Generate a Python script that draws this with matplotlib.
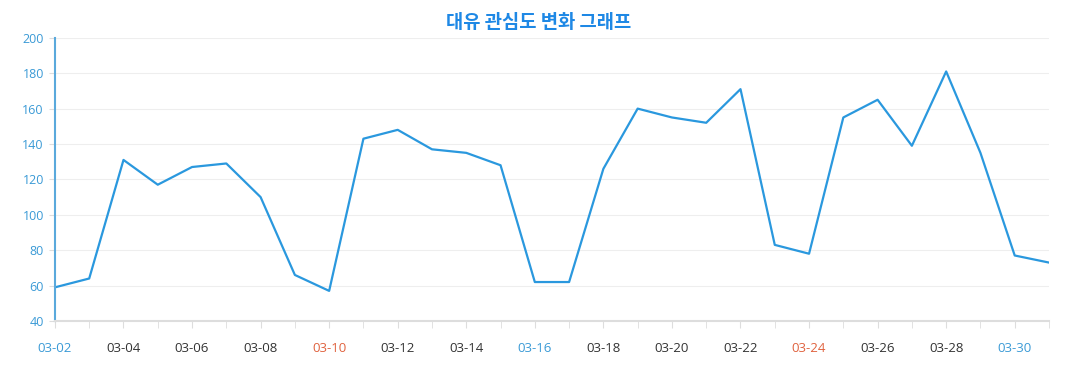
import matplotlib.pyplot as plt

plt.rcParams['font.family'] = ['Noto Sans CJK KR', 'DejaVu Sans']

days = ['03-%02d' % d for d in range(2, 32)]
values = [59, 64, 131, 117, 127, 129, 110, 66, 57, 143, 148, 137, 135, 128, 62, 62,
          126, 160, 155, 152, 171, 83, 78, 155, 165, 139, 181, 135, 77, 73]
blue_days = ['03-02', '03-16', '03-30']
red_days = ['03-10', '03-24']

fig = plt.figure(figsize=(10.77, 3.9), dpi=100)
ax = fig.add_axes([0.051, 0.177, 0.923, 0.726])

x = list(range(len(days)))
ax.plot(x, values, color='#2a98de', linewidth=1.6)

ax.set_xlim(0, len(days) - 1)
ax.set_ylim(40, 200)
ax.set_yticks(range(40, 201, 20))
ax.grid(axis='y', color='#eeeeee', linewidth=0.8)
ax.set_axisbelow(True)

ax.set_xticks(x, minor=True)
ax.set_xticks(x[::2])
ax.set_xticklabels(days[::2], fontsize=9.5, family=['Open Sans', 'DejaVu Sans'])
for lab in ax.get_xticklabels():
    t = lab.get_text()
    if t in blue_days:
        lab.set_color('#3a9ad6')
    elif t in red_days:
        lab.set_color('#e0623e')
    else:
        lab.set_color('#333333')
ax.tick_params(axis='x', which='both', length=5, color='#dddddd', pad=10)
ax.tick_params(axis='y', length=4, color='#dddddd', labelcolor='#3a9ad6', labelsize=9, pad=4)
for lab in ax.get_yticklabels():
    lab.set_family(['Open Sans', 'DejaVu Sans'])

for s in ['top', 'right']:
    ax.spines[s].set_visible(False)
ax.spines['left'].set_color('#5aa9dc')
ax.spines['left'].set_linewidth(1.5)
ax.spines['bottom'].set_color('#dddddd')
ax.spines['bottom'].set_linewidth(1.5)

fig.text(0.5, 0.943, '대유 관심도 변화 그래프', ha='center', va='center',
         fontsize=13.5, fontweight='bold', color='#1e88e5')

fig.savefig('out.png', dpi=100)
